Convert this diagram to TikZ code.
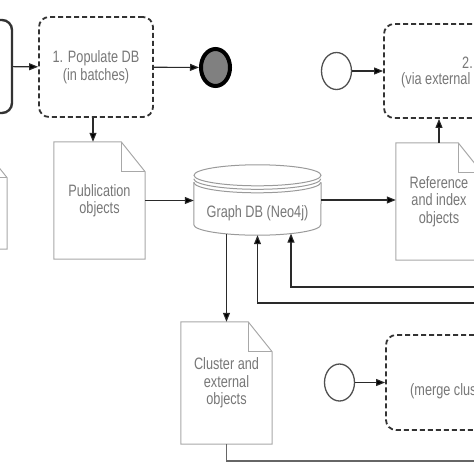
\documentclass[tikz,border=0pt]{standalone}
\usepackage{fontspec}
\setmainfont{Liberation Sans}[FakeStretch=0.77]
\usetikzlibrary{arrows.meta,shapes.geometric}
\definecolor{txt}{HTML}{777777}
\definecolor{boxc}{HTML}{333333}
\definecolor{arrc}{HTML}{2A2A2A}
\definecolor{docc}{HTML}{A8A8A8}
\definecolor{dbc}{HTML}{9A9A9A}
\definecolor{evc}{HTML}{505050}
\definecolor{endfill}{HTML}{808080}
\definecolor{linec}{HTML}{666666}
\newcommand\drawdoc[1]{%
  \draw[docline] (#1.north west) -- ([xshift=-24pt]#1.north east) -- ([yshift=-30pt]#1.north east) -- (#1.south east) -- (#1.south west) -- cycle;
  \draw[docline] ([xshift=-24pt]#1.north east) |- ([yshift=-30pt]#1.north east);}
\begin{document}
\begin{tikzpicture}[x=1pt,y=-1pt,
  dbox/.style={draw=boxc, line width=1.8pt, dash pattern=on 5pt off 3pt, rounded corners=10pt, minimum width=114pt, minimum height=#1, inner sep=0pt},
  dbox/.default=100pt,
  sbox/.style={draw=boxc, line width=2.4pt, rounded corners=10pt, minimum width=102pt, minimum height=93pt, inner sep=0pt},
  arr/.style={draw=arrc, line width=1.1pt, -{Triangle[length=9pt,width=7pt,fill=black]}},
  plainline/.style={draw=linec, line width=1.1pt},
  docline/.style={draw=docc, line width=1pt},
  docarea/.style={inner sep=0pt, minimum width=#1, minimum height=117pt},
  docarea/.default=91pt,
  lbl/.style={text=txt, font=\fontsize{16.5pt}{17.5pt}\selectfont, align=center, inner sep=0pt},
  startev/.style={ellipse, draw=evc, line width=1.3pt, minimum width=30pt, minimum height=37pt, inner sep=0pt},
  endev/.style={ellipse, draw=black, line width=4pt, fill=endfill, minimum width=29pt, minimum height=37pt, inner sep=0pt},
  dbline/.style={draw=dbc, line width=1pt},
  ell/.style={x radius=63.5pt, y radius=10.5pt}
]
\useasboundingbox (0,0) rectangle (474,474);
\clip (0,0) rectangle (474,474);

% nodes
\node[sbox] (lbox) at (-39,66.5) {};
\node[dbox, lbl] (pop) at (96,67) {1. Populate DB\\(in batches)};
\node[endev] (end) at (215.5,67.5) {};
\node[startev] (s2) at (336.5,71) {};
\node[dbox=94pt] (b2) at (441,71) {};
\node[lbl, anchor=west] (t2a) at (462,63) {2.};
\node[lbl, anchor=west] (t2b) at (401,80) {(via external};

\node[docarea, minimum height=101pt] (ldoc) at (-38.5,198.5) {};
\node[docarea, lbl] (pub) at (99.5,200.5) {Publication\\objects};
\node[inner sep=0pt, minimum width=127pt, minimum height=70pt] (db) at (257.5,200) {};
\node[lbl] (dbt) at (257.5,213) {Graph DB (Neo4j)};
\node[docarea=86pt, lbl] (ref) at (439,201.5) {Reference\\and index\\objects};

\node[docarea=91pt, minimum height=122pt, lbl] (clu) at (226.5,383) {Cluster and\\external\\objects};
\node[startev] (s3) at (339.5,382.5) {};
\node[dbox=95pt] (b3) at (443,382.5) {};
\node[lbl, anchor=west] (t3) at (410,391) {(merge clus};

\coordinate (e1) at (480,303);
\coordinate (e2) at (480,287);
\coordinate (e3) at (480,461);

% documents
\drawdoc{ldoc}
\drawdoc{pub}
\drawdoc{ref}
\drawdoc{clu}

% cylinder
\draw[dbline] ([yshift=-10.5pt]db.north) ellipse[ell];
\draw[dbline] ([yshift=-14pt]db.north west) arc[start angle=180, end angle=360, ell];
\draw[dbline] ([yshift=-17.5pt]db.north west) arc[start angle=180, end angle=360, ell];
\draw[dbline] ([yshift=-17.5pt]db.north west) -- ([yshift=10.5pt]db.south west)
   arc[start angle=180, end angle=360, ell] -- ([yshift=-17.5pt]db.north east);

% connectors
\draw[arr] (lbox) -- (pop);
\draw[arr] (pop) -- (end);
\draw[arr] ([xshift=-3pt]pop.south) -- ([xshift=-3pt]pop.south |- pub.north);
\draw[arr] (pub.east) -- (pub.east -| db.west);
\draw[arr] (db.east) -- (db.east -| ref.west);
\draw[arr] (ref.north) -- (ref.north |- b2.south);
\draw[arr] (s2) -- (b2);
\draw[arr] ([yshift=1.3pt]db.south -| clu.north) -- (clu.north);
\draw[arr] (e1) -| (db.south);
\draw[arr] (e2) -| ([xshift=33.5pt,yshift=1.6pt]db.south);
\draw[plainline] (clu.south) |- (e3);
\draw[arr] (s3) -- (b3);
\end{tikzpicture}
\end{document}
